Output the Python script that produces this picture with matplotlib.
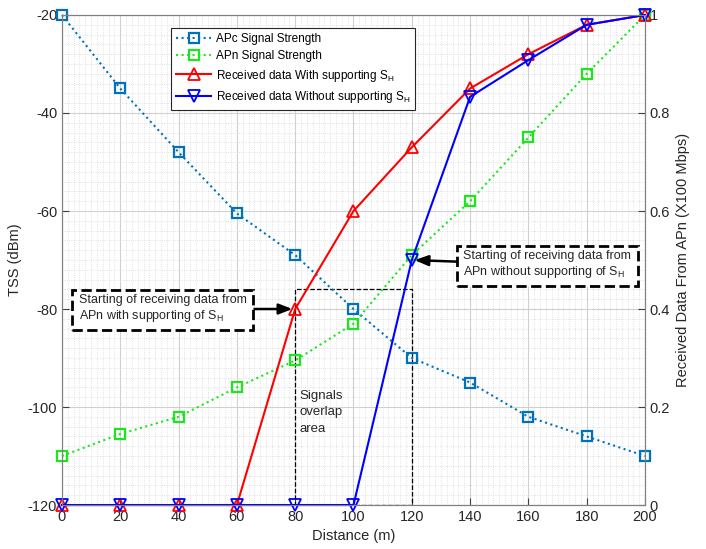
import matplotlib
matplotlib.use("Agg")
import matplotlib.pyplot as plt
from matplotlib.ticker import MultipleLocator, FuncFormatter
import matplotlib.patches as mpatches

plt.rcParams['font.family'] = ['Liberation Sans', 'DejaVu Sans']
plt.rcParams['axes.unicode_minus'] = False

# data
distance = [0, 20, 40, 60, 80, 100, 120, 140, 160, 180, 200]
apc_tss = [-20, -35, -48, -60.5, -69, -80, -90, -95, -102, -106, -110]
apn_tss = [-110, -105.5, -102, -96, -90.5, -83, -69, -58, -45, -32, -20]
recv_with = [0, 0, 0, 0, 0.4, 0.6, 0.73, 0.85, 0.92, 0.98, 1.0]
recv_without = [0, 0, 0, 0, 0, 0, 0.5, 0.833, 0.908, 0.98, 1.0]

xticks = list(range(0, 201, 20))
yticks_left = list(range(-120, -19, 20))
yticks_right = [0, 0.2, 0.4, 0.6, 0.8, 1.0]

overlap_x = (80, 120)
overlap_top = -76

fig = plt.figure(figsize=(7.06, 5.49), dpi=100)
ax = fig.add_axes([0.0878, 0.0801, 0.8258, 0.8926])
ax2 = ax.twinx()

c_apc = '#0072BD'
c_apn = '#1EE61E'

l1, = ax.plot(distance, apc_tss, ':', color=c_apc, lw=1.5, marker='s', ms=7,
              mfc='none', mew=1.6, clip_on=False, label='APc Signal Strength')
l2, = ax.plot(distance, apn_tss, ':', color=c_apn, lw=1.5, marker='s', ms=7,
              mfc='none', mew=1.6, clip_on=False, label='APn Signal Strength')
l3, = ax2.plot(distance, recv_with, '-', color='red', lw=1.5, marker='^', ms=9,
               mfc='none', mew=1.3, clip_on=False,
               label='Received data With supporting S$_\\mathregular{H}$')
l4, = ax2.plot(distance, recv_without, '-', color='blue', lw=1.5, marker='v', ms=9,
               mfc='none', mew=1.3, clip_on=False,
               label='Received data Without supporting S$_\\mathregular{H}$')

ax.set_xlim(0, 200)
ax.set_ylim(-120, -20)
ax2.set_ylim(0, 1)
ax.set_xticks(xticks)
ax.set_yticks(yticks_left)
ax2.set_yticks(yticks_right)
ax2.yaxis.set_major_formatter(FuncFormatter(lambda v, p: '%g' % v))

ax.xaxis.set_minor_locator(MultipleLocator(2))
ax.yaxis.set_minor_locator(MultipleLocator(2))
ax.grid(which='major', color='#d0d0d0', lw=0.8)
ax.grid(which='minor', color='#d8d8d8', lw=0.6, ls=':')
ax.set_axisbelow(True)

for a in (ax, ax2):
    a.tick_params(which='major', direction='in', length=5, labelsize=10.5,
                  color='#404040', labelcolor='#262626')
    a.tick_params(which='minor', length=0)
    for s in a.spines.values():
        s.set_color('#808080')

ax.set_xlabel('Distance (m)', fontsize=10.5, color='#262626')
ax.set_ylabel('TSS (dBm)', fontsize=10.5, color='#262626')
ax2.set_ylabel('Received Data From APn (X100 Mbps)', fontsize=10.5, color='#262626')

# overlap area
rect = mpatches.Rectangle((overlap_x[0], -120), overlap_x[1] - overlap_x[0],
                          overlap_top + 120, fill=False, ls='--', lw=0.9,
                          ec='black', zorder=1)
ax.add_patch(rect)
ax.text(81.5, -96.5, 'Signals\noverlap\narea', fontsize=9.5, va='top', ha='left',
        linespacing=1.5, color='#262626')

box = dict(boxstyle='square,pad=0.5', fc='white', ec='black', ls='--', lw=2)
arrow = dict(arrowstyle='-|>,head_length=0.9,head_width=0.35', color='black', lw=1.8,
             shrinkA=0, shrinkB=2)
ax2.annotate('Starting of receiving data from\nAPn with supporting of S$_\\mathregular{H}$',
             xy=(80, 0.4), xytext=(34.5, 0.4), ha='center', va='center',
             multialignment='left', fontsize=9, bbox=box, arrowprops=arrow,
             zorder=5, color='#262626')
ax2.annotate('Starting of receiving data from\nAPn without supporting of S$_\\mathregular{H}$',
             xy=(120, 0.5), xytext=(166.5, 0.49), ha='center', va='center',
             multialignment='left', fontsize=9, bbox=box, arrowprops=arrow,
             zorder=5, color='#262626')

leg = ax2.legend(handles=[l1, l2, l3, l4], loc='upper left',
                 bbox_to_anchor=(0.177, 0.985), fontsize=8.5, frameon=True,
                 fancybox=False, edgecolor='#262626', framealpha=1,
                 handlelength=3, handletextpad=0.4, borderpad=0.4,
                 labelspacing=0.45)
leg.get_frame().set_linewidth(0.8)

fig.savefig('out.png', dpi=100)
